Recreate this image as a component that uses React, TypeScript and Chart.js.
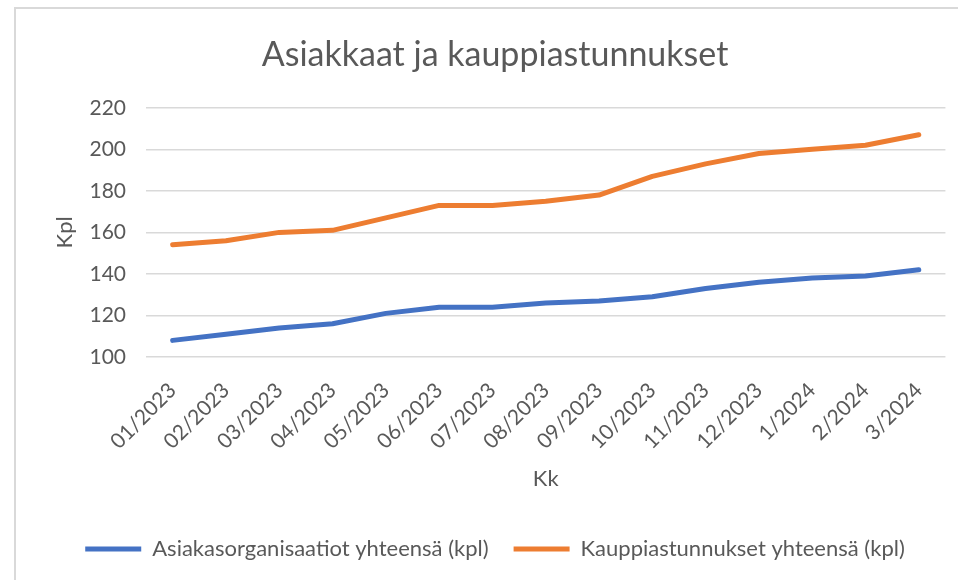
import React, { useEffect, useRef } from "react";
import { Chart, registerables } from "chart.js";

Chart.register(...registerables);

const months = [
  "01/2023", "02/2023", "03/2023", "04/2023", "05/2023", "06/2023", "07/2023",
  "08/2023", "09/2023", "10/2023", "11/2023", "12/2023", "1/2024", "2/2024", "3/2024",
];
const asiakasorganisaatiot = [108, 111, 114, 116, 121, 124, 124, 126, 127, 129, 133, 136, 138, 139, 142];
const kauppiastunnukset = [154, 156, 160, 161, 167, 173, 173, 175, 178, 187, 193, 198, 200, 202, 207];
const seriesNames = ["Asiakasorganisaatiot yhteensä (kpl)", "Kauppiastunnukset yhteensä (kpl)"];
const yMin = 100;
const yMax = 220;
const yStep = 20;

const FONT = "Lato, 'Open Sans', sans-serif";
const TEXT = "#595959";

export default function App() {
  const ref = useRef<HTMLCanvasElement | null>(null);

  useEffect(() => {
    const canvas = ref.current;
    if (!canvas) return;
    const chart = new Chart(canvas, {
      type: "line",
      data: {
        labels: months,
        datasets: [
          {
            label: seriesNames[0],
            data: asiakasorganisaatiot,
            borderColor: "#4472C4",
            backgroundColor: "#4472C4",
            borderWidth: 5,
            borderCapStyle: "round",
            borderJoinStyle: "round",
            pointRadius: 0,
            tension: 0,
          },
          {
            label: seriesNames[1],
            data: kauppiastunnukset,
            borderColor: "#ED7D31",
            backgroundColor: "#ED7D31",
            borderWidth: 5,
            borderCapStyle: "round",
            borderJoinStyle: "round",
            pointRadius: 0,
            tension: 0,
          },
        ],
      },
      options: {
        responsive: false,
        animation: false,
        layout: { padding: { left: 44, right: 12, top: 0, bottom: 10 } },
        plugins: {
          title: {
            display: true,
            text: "Asiakkaat ja kauppiastunnukset",
            color: TEXT,
            font: { family: FONT, size: 34, weight: "normal" },
            padding: { top: 35, bottom: 32 },
          },
          legend: {
            position: "bottom",
            labels: {
              usePointStyle: true,
              pointStyle: "line",
              pointStyleWidth: 56,
              boxHeight: 22,
              color: TEXT,
              font: { family: FONT, size: 22 },
              padding: 25,
            },
          },
          tooltip: { enabled: false },
        },
        scales: {
          x: {
            offset: true,
            grid: { display: false, drawTicks: false },
            border: { display: false },
            ticks: {
              color: TEXT,
              font: { family: FONT, size: 21 },
              minRotation: 45,
              maxRotation: 45,
              padding: 21,
              autoSkip: false,
            },
            title: {
              display: true,
              text: "Kk",
              color: TEXT,
              font: { family: FONT, size: 22 },
              padding: { top: 4, bottom: 21 },
            },
            afterFit: (scale: any) => {
              scale.height = 156;
            },
          },
          y: {
            min: yMin,
            max: yMax,
            grid: { color: "#d9d9d9", lineWidth: 1.5, drawTicks: false },
            border: { display: false },
            ticks: {
              stepSize: yStep,
              color: TEXT,
              font: { family: FONT, size: 21 },
              padding: 20,
            },
            title: {
              display: true,
              text: "Kpl",
              color: TEXT,
              font: { family: FONT, size: 22 },
              padding: { top: 8, bottom: 0 },
            },
            afterFit: (scale: any) => {
              scale.width = 102;
            },
          },
        },
      },
    });
    return () => chart.destroy();
  }, []);

  return (
    <div
      style={{
        position: "fixed",
        left: 0,
        top: 0,
        width: 958,
        height: 580,
        overflow: "hidden",
        background: "#ffffff",
      }}
    >
      <canvas
        ref={ref}
        width={958}
        height={580}
        style={{ position: "absolute", left: 0, top: 0, width: 958, height: 580 }}
      />
      <div
        style={{
          position: "absolute",
          left: 14,
          top: 7,
          width: 2000,
          height: 2000,
          borderTop: "2px solid #d9d9d9",
          borderLeft: "2px solid #d9d9d9",
          pointerEvents: "none",
        }}
      />
    </div>
  );
}
